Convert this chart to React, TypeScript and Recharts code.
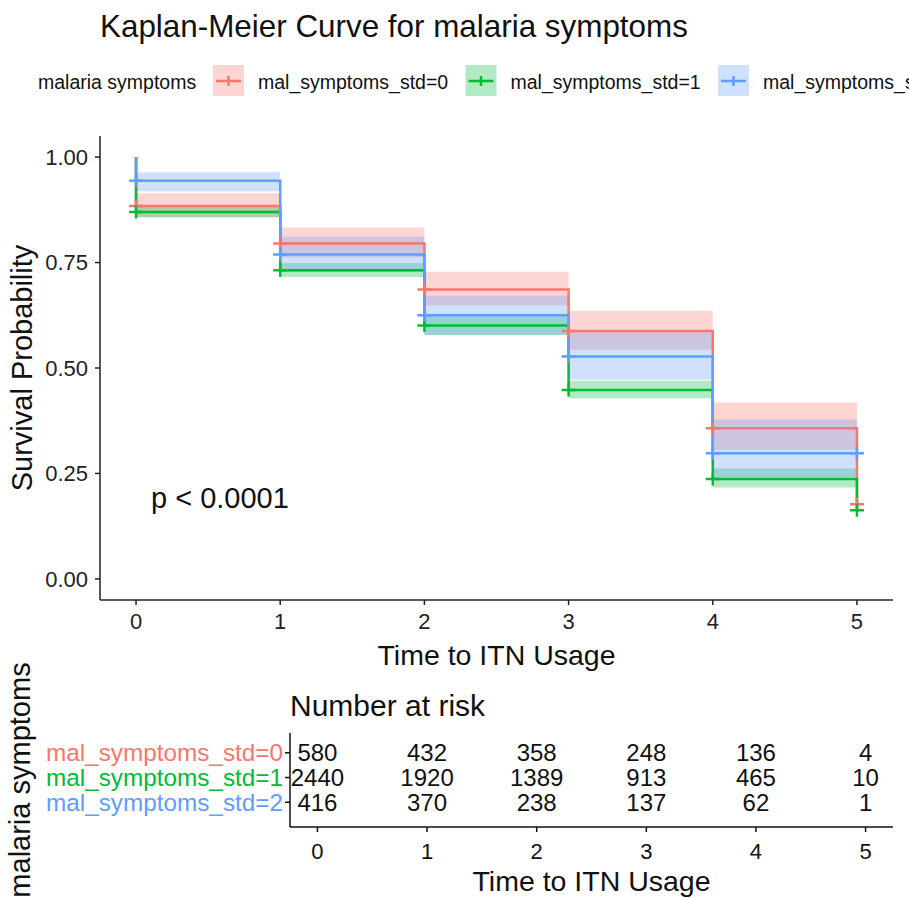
import React from 'react';
import { ComposedChart, Line, Area, XAxis, YAxis, ScatterChart, Scatter } from 'recharts';

const FONT = '"Liberation Sans", Arial, Helvetica, sans-serif';

// ---------- data ----------
const times = [0, 1, 2, 3, 4, 5];
const groupLabels = ['mal_symptoms_std=0', 'mal_symptoms_std=1', 'mal_symptoms_std=2'];
const groupColors = ['#F8766D', '#00BA38', '#619CFF'];
const legendTitle = 'malaria symptoms';

// survival probability right after each time point
const survStd0 = [0.884, 0.795, 0.686, 0.588, 0.357, 0.177];
const survStd1 = [0.870, 0.732, 0.601, 0.448, 0.237, 0.163];
const survStd2 = [0.944, 0.769, 0.625, 0.527, 0.298, 0.298];

// confidence band for each interval [t, t+1)
const lowerStd0 = [0.858, 0.762, 0.649, 0.543, 0.306];
const upperStd0 = [0.914, 0.833, 0.728, 0.636, 0.418];
const lowerStd1 = [0.857, 0.716, 0.578, 0.428, 0.217];
const upperStd1 = [0.884, 0.749, 0.624, 0.470, 0.262];
const lowerStd2 = [0.919, 0.728, 0.578, 0.472, 0.241];
const upperStd2 = [0.964, 0.811, 0.672, 0.585, 0.378];

// number at risk
const riskStd0 = [580, 432, 358, 248, 136, 4];
const riskStd1 = [2440, 1920, 1389, 913, 465, 10];
const riskStd2 = [416, 370, 238, 137, 62, 1];

const survTicks = [0, 0.25, 0.5, 0.75, 1];
const pValueText = 'p < 0.0001';

// ---------- builders ----------
const stepData = (surv: number[]) => [{ t: 0, s: 1 }, ...times.map((t, i) => ({ t, s: surv[i] }))];
const bandData = (lo: number[], hi: number[]) =>
  times.map((t, i) => {
    const k = Math.min(i, lo.length - 1);
    return { t, band: [lo[k], hi[k]] };
  });
const censorData = (surv: number[]) => times.map((t, i) => ({ t, s: surv[i] }));

const survs = [survStd0, survStd1, survStd2];
const lowers = [lowerStd0, lowerStd1, lowerStd2];
const uppers = [upperStd0, upperStd1, upperStd2];
const risks = [riskStd0, riskStd1, riskStd2];

const riskTable = risks.flatMap((r, gi) => times.map((t, i) => ({ t, row: 2 - gi, n: r[i] })));

const plusDot = (color: string) => (p: any) => {
  const { cx, cy, index } = p;
  if (cx == null || cy == null) return <g key={`e-${index}`} />;
  return (
    <path
      key={`c-${index}`}
      d={`M${cx - 7},${cy}H${cx + 7}M${cx},${cy - 6.5}V${cy + 6.5}`}
      stroke={color}
      strokeWidth={2.5}
      fill="none"
    />
  );
};

const RowTick = (props: any) => {
  const { x, y, payload } = props;
  const gi = 2 - payload.value;
  return (
    <text x={x} y={y} dy="0.355em" textAnchor="end" fill={groupColors[gi]} fontSize={24.3} fontFamily={FONT}>
      {groupLabels[gi]}
    </text>
  );
};

const NumShape = (props: any) => {
  const { cx, cy, payload } = props;
  return (
    <text x={cx} y={cy} dy="0.355em" textAnchor="middle" fill="#111" fontSize={24} fontFamily={FONT}>
      {payload.n}
    </text>
  );
};

const axisStroke = { stroke: '#222', strokeWidth: 1.5 };

export default function App() {
  return (
    <div style={{ position: 'absolute', left: 0, top: 0, width: 909, height: 898, overflow: 'hidden', background: '#fff', fontFamily: FONT }}>
      <div style={{ position: 'absolute', left: 0, top: 0 }}>
        <ComposedChart width={909} height={680} margin={{ top: 136, right: 16, bottom: 10, left: 0 }}>
          <XAxis
            type="number"
            dataKey="t"
            domain={[-0.25, 5.25]}
            ticks={times}
            height={70}
            tickSize={5}
            tickMargin={8}
            axisLine={axisStroke}
            tickLine={axisStroke}
            tick={{ fill: '#222', fontSize: 22, fontFamily: FONT }}
            label={{ value: 'Time to ITN Usage', position: 'insideBottom', offset: 5, style: { fill: '#111', fontSize: 28.5, fontFamily: FONT } }}
          />
          <YAxis
            type="number"
            domain={[-0.05, 1.05]}
            ticks={survTicks}
            tickFormatter={(v: number) => v.toFixed(2)}
            width={100}
            tickSize={5}
            tickMargin={7}
            axisLine={axisStroke}
            tickLine={axisStroke}
            tick={{ fill: '#222', fontSize: 22, fontFamily: FONT }}
            label={{ value: 'Survival Probability', angle: -90, position: 'insideLeft', offset: 22, style: { textAnchor: 'middle', fill: '#111', fontSize: 29, fontFamily: FONT } }}
          />
          {groupColors.map((c, gi) => (
            <Area
              key={`band-${gi}`}
              data={bandData(lowers[gi], uppers[gi])}
              dataKey="band"
              type="stepAfter"
              fill={c}
              fillOpacity={0.3}
              stroke="none"
              isAnimationActive={false}
              activeDot={false}
            />
          ))}
          {groupColors.map((c, gi) => (
            <Line
              key={`line-${gi}`}
              data={stepData(survs[gi])}
              dataKey="s"
              type="stepAfter"
              stroke={c}
              strokeWidth={2.5}
              dot={false}
              activeDot={false}
              isAnimationActive={false}
            />
          ))}
          {groupColors.map((c, gi) => (
            <Line
              key={`cens-${gi}`}
              data={censorData(survs[gi])}
              dataKey="s"
              stroke="none"
              dot={plusDot(c)}
              activeDot={false}
              isAnimationActive={false}
            />
          ))}
        </ComposedChart>
      </div>

      <div style={{ position: 'absolute', left: 0, top: 640 }}>
        <ScatterChart width={909} height={258} margin={{ top: 93, right: 16, bottom: 0, left: 0 }}>
          <XAxis
            type="number"
            dataKey="t"
            domain={[-0.25, 5.25]}
            ticks={times}
            height={71}
            tickSize={5}
            tickMargin={11}
            axisLine={{ stroke: '#111', strokeWidth: 1.5 }}
            tickLine={{ stroke: '#111', strokeWidth: 1.5 }}
            tick={{ fill: '#111', fontSize: 22, fontFamily: FONT }}
            label={{ value: 'Time to ITN Usage', position: 'insideBottom', offset: 7, style: { fill: '#111', fontSize: 28.5, fontFamily: FONT } }}
          />
          <YAxis
            type="number"
            dataKey="row"
            domain={[-1, 2.8]}
            ticks={[0, 1, 2]}
            width={290}
            tickSize={5}
            tickMargin={2}
            axisLine={{ stroke: '#111', strokeWidth: 1.5 }}
            tickLine={{ stroke: '#111', strokeWidth: 1.5 }}
            tick={<RowTick />}
            label={{ value: legendTitle, angle: -90, position: 'insideLeft', offset: 20, style: { textAnchor: 'middle', fill: '#111', fontSize: 29, fontFamily: FONT } }}
          />
          <Scatter data={riskTable} shape={<NumShape />} isAnimationActive={false} />
        </ScatterChart>
      </div>

      <svg width={909} height={898} style={{ position: 'absolute', left: 0, top: 0, pointerEvents: 'none' }} fontFamily={FONT}>
        <text x={100} y={37} fontSize={31.4} fill="#111">Kaplan-Meier Curve for malaria symptoms</text>
        <text x={38} y={89} fontSize={19.5} fill="#111">{legendTitle}</text>
        {groupLabels.map((g, gi) => {
          const x0 = 213 + gi * 252.5;
          return (
            <g key={g}>
              <rect x={x0} y={65} width={31} height={31} fill={groupColors[gi]} fillOpacity={0.3} />
              <path d={`M${x0 + 3},${81}H${x0 + 28}M${x0 + 15.5},${76}V${86}`} stroke={groupColors[gi]} strokeWidth={2.5} />
              <text x={x0 + 45} y={89} fontSize={19.5} fill="#111">{g}</text>
            </g>
          );
        })}
        <text x={151} y={508} fontSize={29} fill="#111">{pValueText}</text>
        <text x={290} y={716} fontSize={30} fill="#111">Number at risk</text>
      </svg>
    </div>
  );
}
